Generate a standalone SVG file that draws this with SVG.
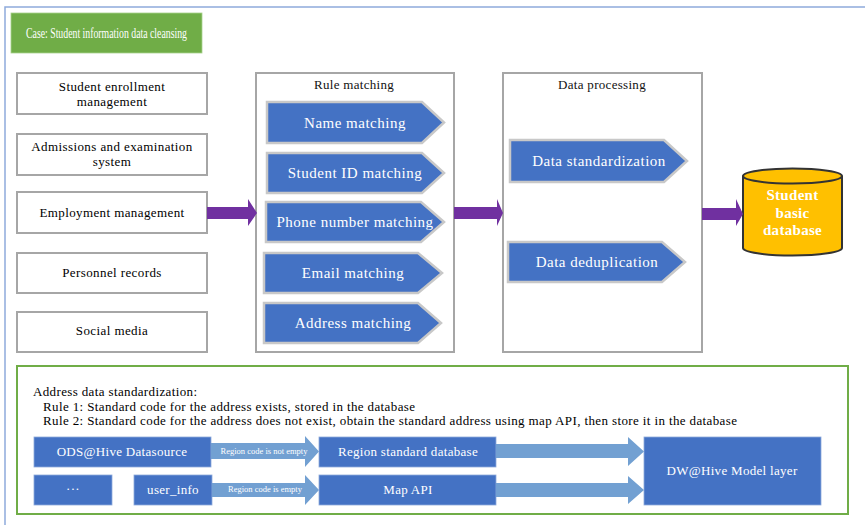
<svg xmlns="http://www.w3.org/2000/svg" width="865" height="525" viewBox="0 0 865 525" font-family="'Liberation Serif', 'DejaVu Serif', serif">
<style>
text{font-family:"Liberation Serif","DejaVu Serif",serif;}
.src{fill:#fff;stroke:#a6a6a6;stroke-width:2;}
.srct{font-size:13px;letter-spacing:0.4px;fill:#000;text-anchor:middle;}
.panel{fill:#fff;stroke:#a6a6a6;stroke-width:2;}
.ptitle{font-size:13px;letter-spacing:0.3px;fill:#111;text-anchor:middle;}
.pent{fill:#4472c4;stroke:#c8c8c8;stroke-width:2.5;}
.pt{font-size:15px;letter-spacing:0.5px;fill:#fff;text-anchor:middle;}
.blue{fill:#4472c4;stroke:#8eaadb;stroke-width:0.8;}
.bt{font-size:13px;letter-spacing:0.3px;fill:#fff;text-anchor:middle;}
.purple{fill:#7030a0;}
.lb{fill:#72a0d2;}
.at{font-size:8.5px;fill:#fff;text-anchor:middle;}
.note{font-size:13px;fill:#000;}
</style>
<rect width="865" height="525" fill="#fff"/>
<path d="M5 525 V7 H865" fill="none" stroke="#8eaadb" stroke-width="1.5"/>

<g id="title">
<rect x="11" y="13" width="191" height="40" fill="#70ad47" stroke="#a9d18e" stroke-width="0.8"/>
<text x="106.5" y="38" font-size="15" fill="#fff" text-anchor="middle" textLength="161" lengthAdjust="spacingAndGlyphs">Case: Student information data cleansing</text>
</g>

<g id="src-enrollment">
<rect class="src" x="17" y="73" width="190" height="41"/>
<text class="srct" x="112" y="91">Student enrollment</text>
<text class="srct" x="112" y="106">management</text>
</g>
<g id="src-admissions">
<rect class="src" x="17" y="134" width="190" height="41"/>
<text class="srct" x="112" y="151">Admissions and examination</text>
<text class="srct" x="112" y="166">system</text>
</g>
<g id="src-employment">
<rect class="src" x="17" y="192" width="190" height="41"/>
<text class="srct" x="112" y="217">Employment management</text>
</g>
<g id="src-personnel">
<rect class="src" x="17" y="253" width="190" height="40"/>
<text class="srct" x="112" y="277">Personnel records</text>
</g>
<g id="src-social">
<rect class="src" x="17" y="312" width="190" height="40"/>
<text class="srct" x="112" y="335">Social media</text>
</g>

<g id="rule-matching">
<rect class="panel" x="256" y="73" width="198" height="279"/>
<text class="ptitle" x="354" y="89">Rule matching</text>
<g id="name-matching">
<polygon class="pent" points="267,102 422,102 444,122.5 422,143 267,143"/>
<text class="pt" x="355" y="128">Name matching</text>
</g>
<g id="studentid-matching">
<polygon class="pent" points="267,153 422,153 444,173 422,193 267,193"/>
<text class="pt" x="355" y="178">Student ID matching</text>
</g>
<g id="phone-matching">
<polygon class="pent" points="266,202 421,202 444,222 421,242 266,242"/>
<text class="pt" x="355" y="227">Phone number matching</text>
</g>
<g id="email-matching">
<polygon class="pent" points="264,253 418,253 442,273 418,293 264,293"/>
<text class="pt" x="353" y="278">Email matching</text>
</g>
<g id="address-matching">
<polygon class="pent" points="264,303 418,303 441,323 418,343 264,343"/>
<text class="pt" x="353" y="328">Address matching</text>
</g>
</g>

<g id="data-processing">
<rect class="panel" x="503" y="73" width="199" height="279"/>
<text class="ptitle" x="602" y="89">Data processing</text>
<g id="data-standardization">
<polygon class="pent" points="510,140 664,140 687,161 664,182 510,182"/>
<text class="pt" x="599" y="166">Data standardization</text>
</g>
<g id="data-deduplication">
<polygon class="pent" points="508,242 662,242 685,262 662,282 508,282"/>
<text class="pt" x="597" y="267">Data deduplication</text>
</g>
</g>

<g id="student-db">
<path d="M743 176 V248 A49.5 7.5 0 0 0 842 248 V176" fill="#ffc000" stroke="#333" stroke-width="2"/>
<ellipse cx="792.5" cy="176" rx="49.5" ry="7.5" fill="#ffc000" stroke="#333" stroke-width="2"/>
<text x="792.5" y="200" font-size="15" font-weight="bold" fill="#fff" text-anchor="middle" letter-spacing="0.3">Student</text>
<text x="792.5" y="218" font-size="15" font-weight="bold" fill="#fff" text-anchor="middle" letter-spacing="0.3">basic</text>
<text x="792.5" y="235" font-size="15" font-weight="bold" fill="#fff" text-anchor="middle" letter-spacing="0.3">database</text>
</g>

<g id="address-panel">
<rect x="17" y="366" width="831" height="148" fill="#fff" stroke="#70ad47" stroke-width="2"/>
<text class="note" x="33" y="396" textLength="164" lengthAdjust="spacing">Address data standardization:</text>
<text class="note" x="43" y="411" textLength="372" lengthAdjust="spacing">Rule 1: Standard code for the address exists, stored in the database</text>
<text class="note" x="43" y="425" textLength="694" lengthAdjust="spacing">Rule 2: Standard code for the address does not exist, obtain the standard address using map API, then store it in the database</text>
</g>
<g id="ods">
<rect class="blue" x="34" y="437" width="177" height="30"/>
<text class="bt" x="122" y="456">ODS@Hive Datasource</text>
</g>
<g id="region-db">
<rect class="blue" x="319" y="437" width="177" height="30"/>
<text class="bt" x="408" y="456">Region standard database</text>
</g>
<g id="ellipsis">
<rect class="blue" x="34" y="475" width="78" height="30"/>
<text class="bt" x="73" y="493">···</text>
</g>
<g id="user-info">
<rect class="blue" x="134" y="475" width="78" height="30"/>
<text class="bt" x="173" y="494">user_info</text>
</g>
<g id="map-api">
<rect class="blue" x="319" y="475" width="177" height="30"/>
<text class="bt" x="408" y="494">Map API</text>
</g>
<g id="dw">
<rect class="blue" x="644" y="437" width="177" height="68"/>
<text class="bt" x="732" y="475">DW@Hive Model layer</text>
</g>

<g id="connectors">
<polygon class="purple" points="207,207 248,207 248,199 257,213 248,226 248,219 207,219"/>
<polygon class="purple" points="454,207 497,207 497,199 503,213 497,226 497,219 454,219"/>
<polygon class="purple" points="702,208 736,208 736,199 743,214 736,226 736,220 702,220"/>
<polygon class="lb" points="211,443 305,443 305,436 319,451.5 305,467 305,459 211,459"/>
<text class="at" x="264" y="454">Region code is not empty</text>
<polygon class="lb" points="212,483 305,483 305,475 319,490 305,505 305,497 212,497"/>
<text class="at" x="265" y="492">Region code is empty</text>
<polygon class="lb" points="496,444 628,444 628,437 644,451.5 628,466 628,458 496,458"/>
<polygon class="lb" points="496,483 628,483 628,476 644,490 628,504 628,497 496,497"/>
</g>
</svg>
